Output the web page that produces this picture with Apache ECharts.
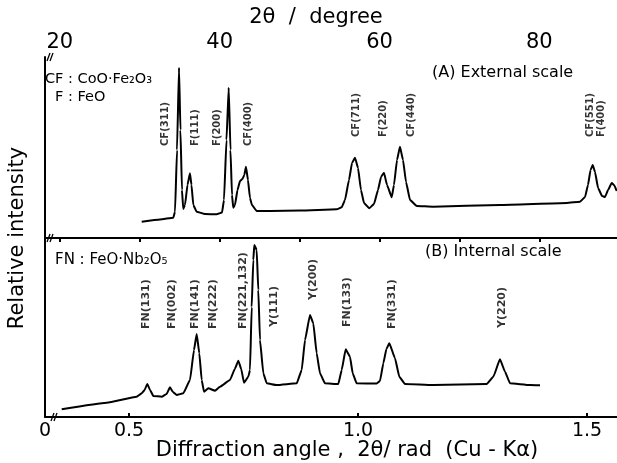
<!DOCTYPE html>
<html>
<head>
<meta charset="utf-8">
<script src="https://cdn.jsdelivr.net/npm/echarts@6/dist/echarts.min.js"></script>
<style>
html, body { margin: 0; padding: 0; background: #fff; }
#chart { width: 617px; height: 463px; }
</style>
</head>
<body>
<div id="chart"></div>
<script>
// (A) external scale : 2θ in degree
var extAngle = [30.24, 32.53, 34.19, 34.41, 34.66, 34.91, 35.09, 35.28, 35.44, 35.66, 35.97, 36.28, 36.47, 36.70, 37.12,
    38.16, 39.62, 40.29, 40.54, 40.85, 41.13, 41.35, 41.54, 41.70, 41.91, 42.23, 42.54, 42.85, 43.08, 43.29, 43.54, 43.79,
    44.04, 44.63, 46.30, 50.05, 54.64, 55.27, 55.68, 56.18, 56.56, 56.93, 57.31, 57.68, 58.06, 58.72, 59.31, 59.81,
    60.19, 60.56, 60.94, 61.53, 61.81, 62.19, 62.56, 62.94, 63.32, 63.82, 64.66, 66.70, 75.08, 83.43, 85.09, 85.72,
    86.09, 86.41, 86.68, 86.97, 87.35, 87.85, 88.22, 88.60, 89.06, 89.35, 89.69];
var extIntensity = [16.3, 18.5, 20.3, 26.3, 88, 170.3, 108, 48, 29, 33, 53, 64.7, 53, 33, 26.3,
    24, 23.7, 25.5, 38, 98, 150.3, 88, 43, 30.3, 33, 48, 57, 59, 63, 71.3, 58, 40,
    33, 27, 27, 27.5, 28.7, 30.7, 38, 58, 75, 80.3, 70, 48, 35, 29.7, 34, 48,
    61, 65.3, 53, 40.7, 53, 78, 91.3, 78, 56, 38, 32, 31.3, 33, 35, 36.3, 41,
    53, 68, 73, 66, 50, 42, 41, 48, 55, 53, 47];

// (B) internal scale : 2θ in rad
var intAngle = [0.3531, 0.4513, 0.5168, 0.5277, 0.5340, 0.5400, 0.5460, 0.5531, 0.5714, 0.5820, 0.5895, 0.5960, 0.6041,
    0.6186, 0.6332, 0.6419, 0.6478, 0.6535, 0.6587, 0.6638, 0.6731, 0.6878, 0.6987, 0.7205, 0.7310, 0.7387, 0.7450,
    0.7511, 0.7605, 0.7642, 0.7679, 0.7714, 0.7736, 0.7788, 0.7823, 0.7860, 0.7933, 0.8007, 0.8225, 0.8662, 0.8771,
    0.8843, 0.8952, 0.9024, 0.9098, 0.9170, 0.9279, 0.9570, 0.9644, 0.9731, 0.9825, 0.9884, 0.9971, 1.0408, 1.0480,
    1.0553, 1.0620, 1.0684, 1.0808, 1.0902, 1.1026, 1.1644, 1.2810, 1.2955, 1.3100, 1.3210, 1.3319, 1.3755, 1.3974];
var intIntensity = [7.7, 14.3, 20.3, 23.7, 27, 33, 27, 21, 20.3, 23, 29.7, 25, 22,
    23.7, 37, 67, 83, 63.7, 37, 25.3, 28.7, 26.3, 30.3, 37, 48, 56.3, 48,
    34.3, 40.3, 47, 110, 157, 172, 167, 127, 77, 43.7, 33.7, 32, 33.7, 47,
    77, 102, 93.7, 63.7, 43.7, 33.7, 33, 47, 67.7, 60.3, 43.7, 33.7, 33.5, 36,
    53.7, 68, 73.7, 58.7, 40.3, 33, 32, 33, 40.3, 57.7, 45.3, 33.7, 32, 31.7];

// peak labels
var extPeakNames = ['CF(311)', 'F(111)', 'F(200)', 'CF(400)', 'CF(711)', 'F(220)', 'CF(440)', 'CF(551)', 'F(400)'];
var extPeakAngle = [33.15, 36.91, 39.70, 43.58, 57.15, 60.48, 63.94, 86.43, 87.81];
var intPeakNames = ['FN(131)', 'FN(002)', 'FN(141)', 'FN(222)', 'FN(221,132)', 'Y(111)', 'Y(200)', 'FN(133)', 'FN(331)', 'Y(220)'];
var intPeakAngle = [0.5371, 0.5932, 0.6441, 0.6841, 0.7483, 0.8166, 0.9024, 0.9753, 1.0736, 1.3138];

// axis ticks
var degTicks = [20, 30, 40, 50, 60, 70, 80];
var degLabels = [20, 40, 60, 80];
var radTicks = [0.5, 1.0, 1.5];

var degMin = 18.14, degMax = 89.72;
var radMin = 0.3166, radMax = 1.5655;

var chart = echarts.init(document.getElementById('chart'));

function zip(a, b) {
    var out = [];
    for (var i = 0; i < a.length; i++) {
        out.push([a[i], b[i]]);
    }
    return out;
}

// bottom of the vertical label text (intensity units of each panel)
var extLabelBase = [92, 92, 92, 92, 101, 101, 101, 101, 101];
var intLabelBase = [88, 88, 88, 88, 88, 90, 117, 90, 88, 89];

function labelData(names, angles, base) {
    var out = [];
    for (var i = 0; i < names.length; i++) {
        out.push([angles[i], base[i], names[i]]);
    }
    return out;
}

var font = 'DejaVu Sans';
var axisLine = { show: true, lineStyle: { color: '#000', width: 2 } };

function peakLabels(xi, yi, data, size) {
    return {
        type: 'scatter',
        xAxisIndex: xi,
        yAxisIndex: yi,
        symbolSize: 0,
        silent: true,
        data: data,
        label: {
            show: true,
            position: 'inside',
            rotate: 90,
            align: 'left',
            verticalAlign: 'middle',
            color: '#000',
            fontFamily: font,
            fontWeight: 'bold',
            fontSize: size,
            formatter: function (p) { return p.data[2]; }
        }
    };
}

function breakMark(x, y) {
    return [
        { type: 'line', shape: { x1: x, y1: y + 4, x2: x + 3, y2: y - 4 }, style: { stroke: '#000', lineWidth: 1.3 } },
        { type: 'line', shape: { x1: x + 3, y1: y + 4, x2: x + 6, y2: y - 4 }, style: { stroke: '#000', lineWidth: 1.3 } }
    ];
}

function txt(x, y, s, size, align, rot) {
    return {
        type: 'text', x: x, y: y, rotation: rot || 0,
        style: { text: s, fill: '#000', fontFamily: font, fontSize: size, textAlign: align || 'left', textVerticalAlign: 'middle' }
    };
}

var option = {
    backgroundColor: '#fff',
    animation: false,
    grid: [
        { left: 45, right: 0, top: 57, height: 181 },
        { left: 45, right: 0, top: 238, height: 179 }
    ],
    xAxis: [
        {
            gridIndex: 0, type: 'value', position: 'top', min: degMin, max: degMax,
            axisLine: axisLine,
            axisTick: { show: true, inside: true, length: 4, customValues: degTicks, lineStyle: { color: '#000', width: 2 } },
            axisLabel: { customValues: degLabels, color: '#000', fontFamily: font, fontSize: 21, margin: 4 },
            splitLine: { show: false }
        },
        {
            gridIndex: 0, type: 'value', position: 'bottom', min: degMin, max: degMax,
            axisLine: axisLine, axisTick: { show: false }, axisLabel: { show: false }, splitLine: { show: false }
        },
        {
            gridIndex: 1, type: 'value', position: 'bottom', min: radMin, max: radMax,
            axisLine: axisLine,
            axisTick: { show: true, inside: true, length: 4, customValues: radTicks, lineStyle: { color: '#000', width: 2 } },
            axisLabel: {
                customValues: [radMin].concat(radTicks), color: '#000', fontFamily: font, fontSize: 19, margin: 5,
                formatter: function (v) { return v < 0.4 ? '0' : v.toFixed(1); }
            },
            splitLine: { show: false }
        }
    ],
    yAxis: [
        { gridIndex: 0, type: 'value', min: 0, max: 181, axisLine: axisLine, axisTick: { show: false }, axisLabel: { show: false }, splitLine: { show: false } },
        { gridIndex: 1, type: 'value', min: 0, max: 179, axisLine: axisLine, axisTick: { show: false }, axisLabel: { show: false }, splitLine: { show: false } }
    ],
    series: [
        {
            name: 'External scale', type: 'line', xAxisIndex: 0, yAxisIndex: 0,
            data: zip(extAngle, extIntensity), showSymbol: false, smooth: 0.12, smoothMonotone: 'x',
            lineStyle: { color: '#000', width: 2 }
        },
        {
            name: 'Internal scale', type: 'line', xAxisIndex: 2, yAxisIndex: 1,
            data: zip(intAngle, intIntensity), showSymbol: false, smooth: 0.12, smoothMonotone: 'x',
            lineStyle: { color: '#000', width: 2 }
        },
        peakLabels(0, 0, labelData(extPeakNames, extPeakAngle, extLabelBase), 10),
        peakLabels(2, 1, labelData(intPeakNames, intPeakAngle, intLabelBase), 11)
    ],
    graphic: [
        txt(316, 18, '2θ  /  degree', 21, 'center'),
        txt(347, 451, 'Diffraction angle ,  2θ/ rad  (Cu - Kα)', 21, 'center'),
        txt(18, 238, 'Relative intensity', 21, 'center', Math.PI / 2),
        txt(45, 79, 'CF : CoO·Fe₂O₃', 14.5),
        txt(55, 97, 'F : FeO', 14.5),
        txt(432, 73, '(A) External scale', 16),
        txt(425, 252, '(B) Internal scale', 16),
        txt(55, 260, 'FN : FeO·Nb₂O₅', 15)
    ].concat(breakMark(47, 57), breakMark(47, 238), breakMark(51, 417))
};

chart.setOption(option);
</script>
</body>
</html>
